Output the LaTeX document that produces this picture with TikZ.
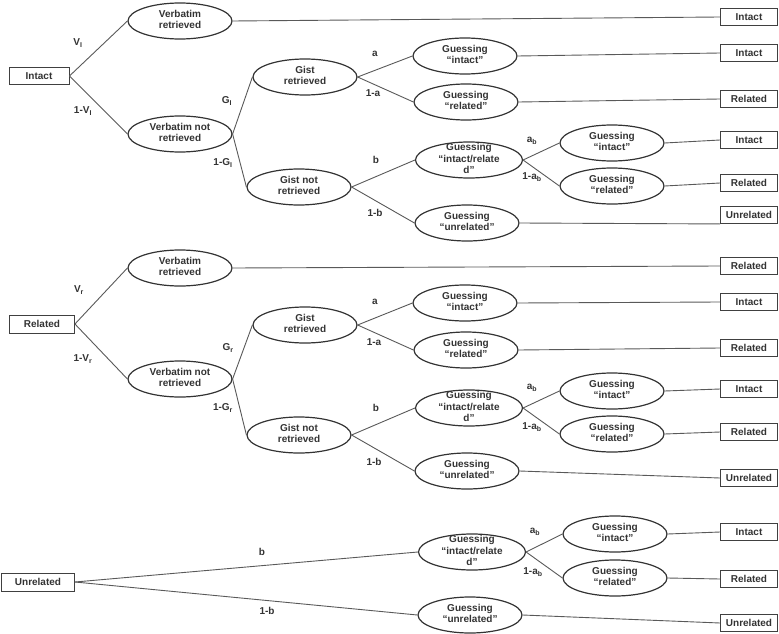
\documentclass[tikz,border=0pt]{standalone}
\usepackage{fontspec}
\setmainfont{Liberation Sans}
\usetikzlibrary{shapes.geometric}
\newcommand{\ct}[1]{\smash{\raisebox{-2.3pt}{\begin{tabular}{@{}c@{}}#1\end{tabular}}}}
\newcommand{\sbs}[1]{\textsubscript{#1}}
\begin{document}
\begin{tikzpicture}[x=1pt,y=-1pt,
 every node/.style={font=\fontsize{10}{11.5}\selectfont\bfseries, text=black!80},
 ell/.style={draw=black!80, line width=1.2pt, ellipse, minimum width=104pt, minimum height=36pt, inner sep=0pt},
 bx/.style={draw=black!75, line width=0.9pt, rectangle, minimum width=57pt, minimum height=17pt, inner sep=0pt},
 cn/.style={draw=black!65, line width=0.9pt},
 lb/.style={inner sep=0pt}]
\useasboundingbox (0,0) rectangle (779,634);

% ---------- Section 1: Intact ----------
\node[bx, minimum width=60pt] (i0) at (39,76) {Intact};
\node[ell] (ivr) at (180,21) {\ct{Verbatim\\retrieved}};
\node[ell] (ivn) at (180,134) {\ct{Verbatim not\\retrieved}};
\node[ell] (igr) at (305,77) {\ct{Gist\\retrieved}};
\node[ell] (ign) at (299,187) {\ct{Gist not\\retrieved}};
\node[ell] (igi) at (465,56) {\ct{Guessing\\“intact”}};
\node[ell] (igl) at (466,102) {\ct{Guessing\\“related”}};
\node[ell, minimum width=107pt] (igb) at (469,160) {\ct{Guessing\\“intact/relate\\d”}};
\node[ell] (igu) at (467,223) {\ct{Guessing\\“unrelated”}};
\node[ell] (ihi) at (612,143) {\ct{Guessing\\“intact”}};
\node[ell] (ihl) at (612,186) {\ct{Guessing\\“related”}};
\node[bx] (io1) at (749,17) {Intact};
\node[bx] (io2) at (749,53) {Intact};
\node[bx] (io3) at (749,99) {Related};
\node[bx] (io4) at (749,140) {Intact};
\node[bx] (io5) at (749,183) {Related};
\node[bx] (io6) at (749,215) {Unrelated};

\node[lb] (ilv) at (78,43) {V\sbs{I}};
\node[lb] (ilnv) at (83,111) {1-V\sbs{I}};
\node[lb] (ilg) at (227,101) {G\sbs{I}};
\node[lb] (ilng) at (223,163) {1-G\sbs{I}};
\node[lb] (ila) at (375,54) {a};
\node[lb] (ilna) at (373,93) {1-a};
\node[lb] (ilb) at (376,160) {b};
\node[lb] (ilnb) at (375,213) {1-b};
\node[lb] (ilab) at (532,141) {a\sbs{b}};
\node[lb] (ilnab) at (532,177) {1-a\sbs{b}};

\draw[cn] (i0.east) -- (ivr.west);
\draw[cn] (i0.east) -- (ivn.west);
\draw[cn] (ivr.east) -- (io1.west);
\draw[cn] (ivn.east) -- (igr.west);
\draw[cn] (ivn.east) -- (ign.west);
\draw[cn] (igr.east) -- (igi.west);
\draw[cn] (igr.east) -- (igl.west);
\draw[cn] (ign.east) -- (igb.west);
\draw[cn] (ign.east) -- (igu.west);
\draw[cn] (igb.east) -- (ihi.west);
\draw[cn] (igb.east) -- (ihl.west);
\draw[cn] (igi.east) -- (io2.west);
\draw[cn] (igl.east) -- (io3.west);
\draw[cn] (ihi.east) -- (io4.west);
\draw[cn] (ihl.east) -- (io5.west);
\draw[cn] (igu.east) -- (io6.south west);

% ---------- Section 2: Related ----------
\node[bx, minimum width=65pt, minimum height=18pt] (r0) at (42,324) {Related};
\node[ell] (rvr) at (180,268) {\ct{Verbatim\\retrieved}};
\node[ell] (rvn) at (180,379) {\ct{Verbatim not\\retrieved}};
\node[ell] (rgr) at (305,325) {\ct{Gist\\retrieved}};
\node[ell] (rgn) at (299,435) {\ct{Gist not\\retrieved}};
\node[ell] (rgi) at (465,303) {\ct{Guessing\\“intact”}};
\node[ell] (rgl) at (466,350) {\ct{Guessing\\“related”}};
\node[ell, minimum width=107pt] (rgb) at (469,408) {\ct{Guessing\\“intact/relate\\d”}};
\node[ell] (rgu) at (467,471) {\ct{Guessing\\“unrelated”}};
\node[ell] (rhi) at (612,391) {\ct{Guessing\\“intact”}};
\node[ell] (rhl) at (612,434) {\ct{Guessing\\“related”}};
\node[bx] (ro1) at (749,266) {Related};
\node[bx] (ro2) at (749,302) {Intact};
\node[bx] (ro3) at (749,348) {Related};
\node[bx] (ro4) at (749,389) {Intact};
\node[bx] (ro5) at (749,432) {Related};
\node[bx] (ro6) at (749,478) {Unrelated};

\node[lb] (rlv) at (79,290) {V\sbs{r}};
\node[lb] (rlnv) at (83,359) {1-V\sbs{r}};
\node[lb] (rlg) at (228,348) {G\sbs{r}};
\node[lb] (rlng) at (223,408) {1-G\sbs{r}};
\node[lb] (rla) at (375,302) {a};
\node[lb] (rlna) at (374,342) {1-a};
\node[lb] (rlb) at (376,408) {b};
\node[lb] (rlnb) at (374,462) {1-b};
\node[lb] (rlab) at (532,388) {a\sbs{b}};
\node[lb] (rlnab) at (532,427) {1-a\sbs{b}};

\draw[cn] (r0.east) -- (rvr.west);
\draw[cn] (r0.east) -- (rvn.west);
\draw[cn] (rvr.east) -- (ro1.west);
\draw[cn] (rvn.east) -- (rgr.west);
\draw[cn] (rvn.east) -- (rgn.west);
\draw[cn] (rgr.east) -- (rgi.west);
\draw[cn] (rgr.east) -- (rgl.west);
\draw[cn] (rgn.east) -- (rgb.west);
\draw[cn] (rgn.east) -- (rgu.west);
\draw[cn] (rgb.east) -- (rhi.west);
\draw[cn] (rgb.east) -- (rhl.west);
\draw[cn] (rgi.east) -- (ro2.west);
\draw[cn] (rgl.east) -- (ro3.west);
\draw[cn] (rhi.east) -- (ro4.west);
\draw[cn] (rhl.east) -- (ro5.west);
\draw[cn] (rgu.east) -- (ro6.west);

% ---------- Section 3: Unrelated ----------
\node[bx, minimum width=73pt, minimum height=18pt] (u0) at (38,582) {Unrelated};
\node[ell, minimum width=107pt] (ugb) at (472,552) {\ct{Guessing\\“intact/relate\\d”}};
\node[ell] (ugu) at (470,615) {\ct{Guessing\\“unrelated”}};
\node[ell] (uhi) at (615,534) {\ct{Guessing\\“intact”}};
\node[ell] (uhl) at (615,578) {\ct{Guessing\\“related”}};
\node[bx] (uo1) at (749,532) {Intact};
\node[bx] (uo2) at (749,579) {Related};
\node[bx] (uo3) at (749,623) {Unrelated};

\node[lb] (ulb) at (262,552) {b};
\node[lb] (ulnb) at (267,611) {1-b};
\node[lb] (ulab) at (535,532) {a\sbs{b}};
\node[lb] (ulnab) at (533,572) {1-a\sbs{b}};

\draw[cn] (u0.east) -- (ugb.west);
\draw[cn] (u0.east) -- (ugu.west);
\draw[cn] (ugb.east) -- (uhi.west);
\draw[cn] (ugb.east) -- (uhl.west);
\draw[cn] (uhi.east) -- (uo1.west);
\draw[cn] (uhl.east) -- (uo2.west);
\draw[cn] (ugu.east) -- (uo3.west);
\end{tikzpicture}
\end{document}
